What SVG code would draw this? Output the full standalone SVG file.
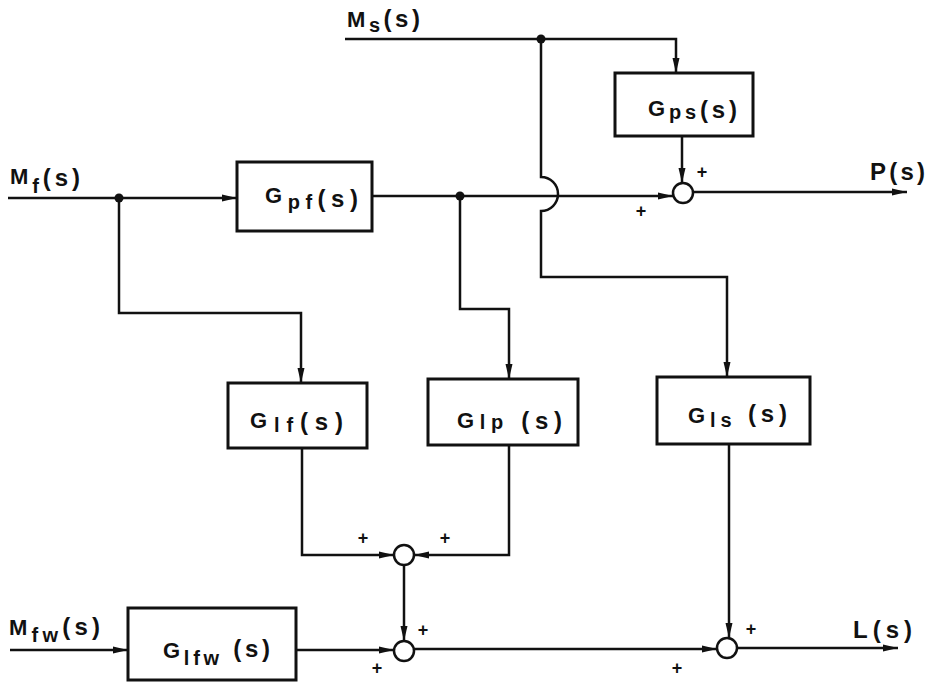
<svg xmlns="http://www.w3.org/2000/svg" width="928" height="683" viewBox="0 0 928 683">
<style>
.box{fill:#fff;stroke:#111;stroke-width:3}
.ln{fill:none;stroke:#111;stroke-width:2.5}
.sum{fill:#fff;stroke:#111;stroke-width:2.5}
.dot{fill:#111}
text{font-family:"Liberation Sans",Arial,sans-serif;font-weight:bold;fill:#111}
.lbl{font-size:22px}
.sub{font-size:20px}
.par{font-size:24px}
.pl{font-size:18px;text-anchor:middle}
</style>
<defs>
<marker id="ah" markerUnits="userSpaceOnUse" markerWidth="16" markerHeight="10" refX="15" refY="5" orient="auto">
<path d="M0,1.5 L15,5 L0,8.5 z" fill="#111"/>
</marker>
</defs>
<rect width="928" height="683" fill="#fff"/>
<g id="connectors">
<path class="ln" d="M345,39 H676 V73" marker-end="url(#ah)"/>
<path class="ln" d="M541,39 V177 A17,17 0 0 1 541,211 V277 H727 V377" marker-end="url(#ah)"/>
<path class="ln" d="M682,136 V183" marker-end="url(#ah)"/>
<path class="ln" d="M8,198 H237" marker-end="url(#ah)"/>
<path class="ln" d="M372,196 H673" marker-end="url(#ah)"/>
<path class="ln" d="M693,192 H907" marker-end="url(#ah)"/>
<path class="ln" d="M119,198 V313 H301 V383" marker-end="url(#ah)"/>
<path class="ln" d="M460,196 V309 H509 V379" marker-end="url(#ah)"/>
<path class="ln" d="M302,448 V555 H394" marker-end="url(#ah)"/>
<path class="ln" d="M509,445 V555 H414" marker-end="url(#ah)"/>
<path class="ln" d="M404,565 V641" marker-end="url(#ah)"/>
<path class="ln" d="M10,650 H128" marker-end="url(#ah)"/>
<path class="ln" d="M296,650 H394" marker-end="url(#ah)"/>
<path class="ln" d="M414,649 H717" marker-end="url(#ah)"/>
<path class="ln" d="M729,444 V638" marker-end="url(#ah)"/>
<path class="ln" d="M737,648 H898" marker-end="url(#ah)"/>
<circle class="dot" cx="541" cy="39" r="4.5"/>
<circle class="dot" cx="119" cy="198" r="4.5"/>
<circle class="dot" cx="460" cy="196" r="4.5"/>
</g>
<g id="Ms"><text class="lbl" x="347" y="27" textLength="73"><tspan>M</tspan><tspan class="sub" dy="5">s</tspan><tspan class="par" dy="-5">(s)</tspan></text></g>
<g id="Mf"><text class="lbl" x="10" y="184" textLength="70"><tspan>M</tspan><tspan class="sub" dy="9">f</tspan><tspan class="par" dy="-7">(s)</tspan></text></g>
<g id="Mfw"><text class="lbl" x="9" y="635" textLength="91"><tspan>M</tspan><tspan class="sub" dy="7">fw</tspan><tspan class="par" dy="-7">(s)</tspan></text></g>
<g id="P"><text class="par" x="870" y="180" textLength="55">P(s)</text></g>
<g id="L"><text class="par" x="853" y="638" textLength="59">L(s)</text></g>
<g id="Gpf"><rect class="box" x="237" y="162" width="135" height="69"/><text class="lbl" x="265" y="203" textLength="93"><tspan>G</tspan><tspan class="sub" dy="6">pf</tspan><tspan class="par" dy="-2">(s)</tspan></text></g>
<g id="Gps"><rect class="box" x="615" y="73" width="138" height="63"/><text class="lbl" x="648" y="116" textLength="89"><tspan>G</tspan><tspan class="sub" dy="3">ps</tspan><tspan class="par" dy="-1">(s)</tspan></text></g>
<g id="Glf"><rect class="box" x="228" y="383" width="139" height="65"/><text class="lbl" x="250" y="428" textLength="93"><tspan>G</tspan><tspan class="sub" dy="4">lf</tspan><tspan class="par" dy="-2">(s)</tspan></text></g>
<g id="Glp"><rect class="box" x="428" y="379" width="150" height="66"/><text class="lbl" x="457" y="428" textLength="105"><tspan>G</tspan><tspan class="sub" dy="1">lp</tspan><tspan class="par" dy="0"> (s)</tspan></text></g>
<g id="Gls"><rect class="box" x="657" y="377" width="153" height="67"/><text class="lbl" x="688" y="423" textLength="99"><tspan>G</tspan><tspan class="sub" dy="4">ls</tspan><tspan class="par" dy="-5"> (s)</tspan></text></g>
<g id="Glfw"><rect class="box" x="128" y="608" width="168" height="72"/><text class="lbl" x="163" y="658" textLength="107"><tspan>G</tspan><tspan class="sub" dy="7">lfw</tspan><tspan class="par" dy="-8"> (s)</tspan></text></g>
<g id="sumP"><circle class="sum" cx="683" cy="193" r="10"/><text class="pl" x="702" y="178">+</text><text class="pl" x="641" y="217">+</text></g>
<g id="sumA"><circle class="sum" cx="404" cy="555" r="10"/><text class="pl" x="363" y="544">+</text><text class="pl" x="445" y="544">+</text></g>
<g id="sumB"><circle class="sum" cx="404" cy="651" r="10"/><text class="pl" x="423" y="636">+</text><text class="pl" x="377" y="674">+</text></g>
<g id="sumC"><circle class="sum" cx="727" cy="648" r="10"/><text class="pl" x="751" y="635">+</text><text class="pl" x="677" y="674">+</text></g>
</svg>
